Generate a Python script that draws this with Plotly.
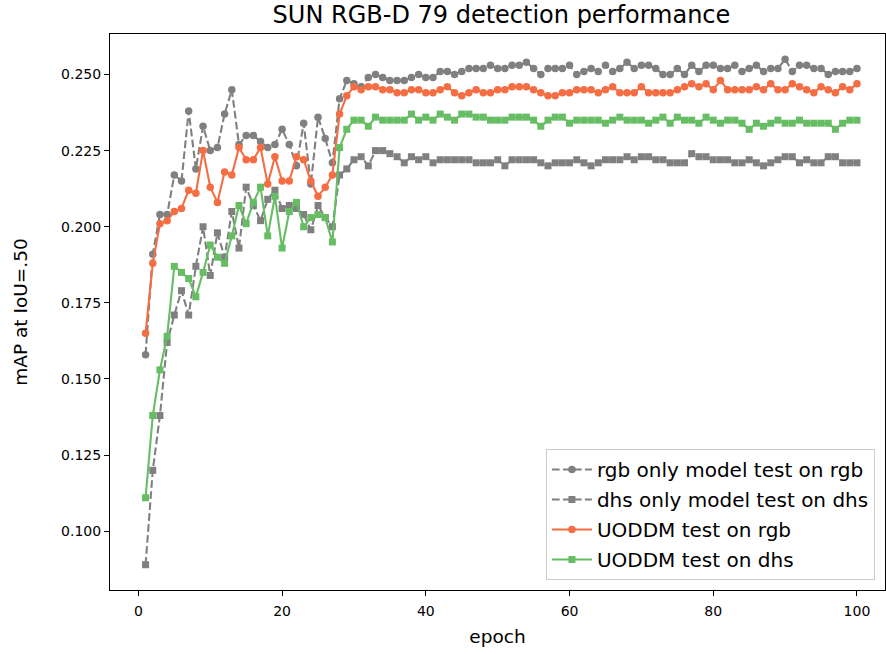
import plotly.graph_objects as go

epochs = list(range(1, 101))

rgb_only = [
    0.158, 0.191, 0.204, 0.204, 0.217, 0.215, 0.238, 0.219, 0.233, 0.225,
    0.226, 0.237, 0.245, 0.227, 0.230, 0.230, 0.228, 0.226, 0.227, 0.232,
    0.227, 0.220, 0.234, 0.214, 0.236, 0.229, 0.221, 0.242, 0.248, 0.247,
    0.246, 0.249, 0.250, 0.249, 0.248, 0.248, 0.248, 0.249, 0.250, 0.249,
    0.249, 0.251, 0.251, 0.250, 0.251, 0.252, 0.252, 0.252, 0.253, 0.252,
    0.252, 0.253, 0.253, 0.254, 0.252, 0.250, 0.252, 0.252, 0.252, 0.253,
    0.250, 0.251, 0.252, 0.251, 0.253, 0.251, 0.252, 0.254, 0.252, 0.253,
    0.253, 0.252, 0.250, 0.250, 0.252, 0.250, 0.253, 0.251, 0.253, 0.253,
    0.252, 0.252, 0.253, 0.251, 0.252, 0.253, 0.251, 0.252, 0.252, 0.255,
    0.251, 0.253, 0.253, 0.252, 0.252, 0.250, 0.251, 0.251, 0.251, 0.252,
]

dhs_only = [
    0.089, 0.120, 0.138, 0.162, 0.171, 0.179, 0.171, 0.187, 0.200, 0.184,
    0.198, 0.190, 0.205, 0.193, 0.213, 0.207, 0.202, 0.209, 0.212, 0.206,
    0.207, 0.206, 0.204, 0.199, 0.207, 0.203, 0.200, 0.217, 0.219, 0.222,
    0.223, 0.220, 0.225, 0.225, 0.224, 0.223, 0.221, 0.223, 0.222, 0.223,
    0.221, 0.222, 0.222, 0.222, 0.222, 0.222, 0.221, 0.221, 0.221, 0.222,
    0.220, 0.222, 0.222, 0.222, 0.222, 0.221, 0.220, 0.221, 0.221, 0.221,
    0.222, 0.221, 0.220, 0.221, 0.222, 0.222, 0.222, 0.223, 0.222, 0.223,
    0.223, 0.222, 0.222, 0.221, 0.221, 0.221, 0.224, 0.223, 0.223, 0.222,
    0.222, 0.222, 0.221, 0.221, 0.222, 0.221, 0.220, 0.221, 0.222, 0.223,
    0.223, 0.221, 0.222, 0.221, 0.221, 0.223, 0.223, 0.221, 0.221, 0.221,
]

uoddm_rgb = [
    0.165, 0.188, 0.201, 0.202, 0.205, 0.206, 0.212, 0.211, 0.225, 0.213,
    0.208, 0.218, 0.217, 0.226, 0.222, 0.222, 0.226, 0.214, 0.223, 0.215,
    0.215, 0.223, 0.222, 0.215, 0.210, 0.213, 0.217, 0.237, 0.243, 0.246,
    0.245, 0.246, 0.246, 0.245, 0.245, 0.244, 0.244, 0.245, 0.245, 0.244,
    0.244, 0.245, 0.246, 0.244, 0.243, 0.244, 0.245, 0.244, 0.244, 0.245,
    0.245, 0.246, 0.246, 0.246, 0.245, 0.244, 0.243, 0.243, 0.244, 0.244,
    0.245, 0.245, 0.245, 0.244, 0.245, 0.246, 0.244, 0.244, 0.244, 0.246,
    0.244, 0.244, 0.244, 0.244, 0.245, 0.246, 0.247, 0.246, 0.247, 0.245,
    0.248, 0.245, 0.245, 0.245, 0.245, 0.246, 0.245, 0.247, 0.245, 0.245,
    0.247, 0.246, 0.245, 0.244, 0.246, 0.245, 0.244, 0.246, 0.245, 0.247,
]

uoddm_dhs = [
    0.111, 0.138, 0.153, 0.164, 0.187, 0.185, 0.183, 0.177, 0.185, 0.194,
    0.190, 0.188, 0.197, 0.207, 0.201, 0.208, 0.213, 0.197, 0.210, 0.193,
    0.205, 0.208, 0.200, 0.203, 0.204, 0.203, 0.195, 0.226, 0.232, 0.235,
    0.235, 0.233, 0.236, 0.235, 0.235, 0.235, 0.235, 0.237, 0.235, 0.236,
    0.235, 0.237, 0.236, 0.235, 0.237, 0.237, 0.236, 0.236, 0.235, 0.235,
    0.235, 0.236, 0.236, 0.236, 0.235, 0.233, 0.235, 0.236, 0.236, 0.234,
    0.235, 0.235, 0.235, 0.235, 0.234, 0.235, 0.236, 0.235, 0.235, 0.235,
    0.234, 0.235, 0.236, 0.234, 0.236, 0.235, 0.235, 0.234, 0.236, 0.235,
    0.234, 0.235, 0.235, 0.234, 0.232, 0.234, 0.233, 0.234, 0.235, 0.234,
    0.234, 0.235, 0.234, 0.234, 0.234, 0.234, 0.232, 0.234, 0.235, 0.235,
]

series_names = [
    "rgb only model test on rgb",
    "dhs only model test on dhs",
    "UODDM test on rgb",
    "UODDM test on dhs",
]
x_ticks = [0, 20, 40, 60, 80, 100]
y_ticks = [0.100, 0.125, 0.150, 0.175, 0.200, 0.225, 0.250]

GRAY = "#808080"
ORANGE = "#f46d43"
GREEN = "#66bd63"
DASH = "7.7px,3.3px"
FONT = "DejaVu Sans"

fig = go.Figure()
styles = [
    (rgb_only, GRAY, DASH, "circle"),
    (dhs_only, GRAY, DASH, "square"),
    (uoddm_rgb, ORANGE, "solid", "circle"),
    (uoddm_dhs, GREEN, "solid", "square"),
]
for i, (name, (vals, col, dash, sym)) in enumerate(zip(series_names, styles)):
    fig.add_trace(go.Scatter(
        x=epochs, y=vals, name=name, mode="lines+markers", legendgroup=f"g{i}",
        line=dict(color=col, width=2.1, dash=dash),
        marker=dict(color=col, size=7.5 if sym == "circle" else 7, symbol=sym, line=dict(width=0)),
    ))

axis_common = dict(
    showline=True, linecolor="black", linewidth=1.1, mirror=True,
    ticks="outside", ticklen=5, tickwidth=1.1, tickcolor="black",
    showgrid=False, zeroline=False, automargin=False,
    tickfont=dict(family=FONT, size=14, color="black"),
)

fig.update_layout(
    width=886, height=654,
    margin=dict(l=110, r=1, t=34, b=64),
    paper_bgcolor="white", plot_bgcolor="white",
    font=dict(family=FONT, color="black"),
    title=dict(text="SUN RGB-D 79 detection performance", x=0.566, xanchor="center",
               y=0.977, yanchor="middle", font=dict(family=FONT, size=24, color="black")),
    xaxis=dict(range=[-3.95, 103.9], tickvals=x_ticks, ticktext=[str(v) for v in x_ticks],
               ticklabelstandoff=3,
               title=dict(text="epoch", font=dict(family=FONT, size=18.5), standoff=12),
               **axis_common),
    yaxis=dict(range=[0.0807, 0.2633], tickvals=y_ticks, ticktext=[f"{v:.3f}" for v in y_ticks],
               title=dict(text="mAP at IoU=.50", font=dict(family=FONT, size=18.5), standoff=28),
               **axis_common),
    legend=dict(x=0.987, y=0.018, xanchor="right", yanchor="bottom",
                bgcolor="rgba(255,255,255,0.8)", bordercolor="#cccccc", borderwidth=1,
                itemwidth=40, tracegroupgap=1,
                font=dict(family=FONT, size=20, color="black")),
    showlegend=True,
)

fig.write_html("out.html", config={"displayModeBar": False},
               post_script="document.body.style.margin='0';")
